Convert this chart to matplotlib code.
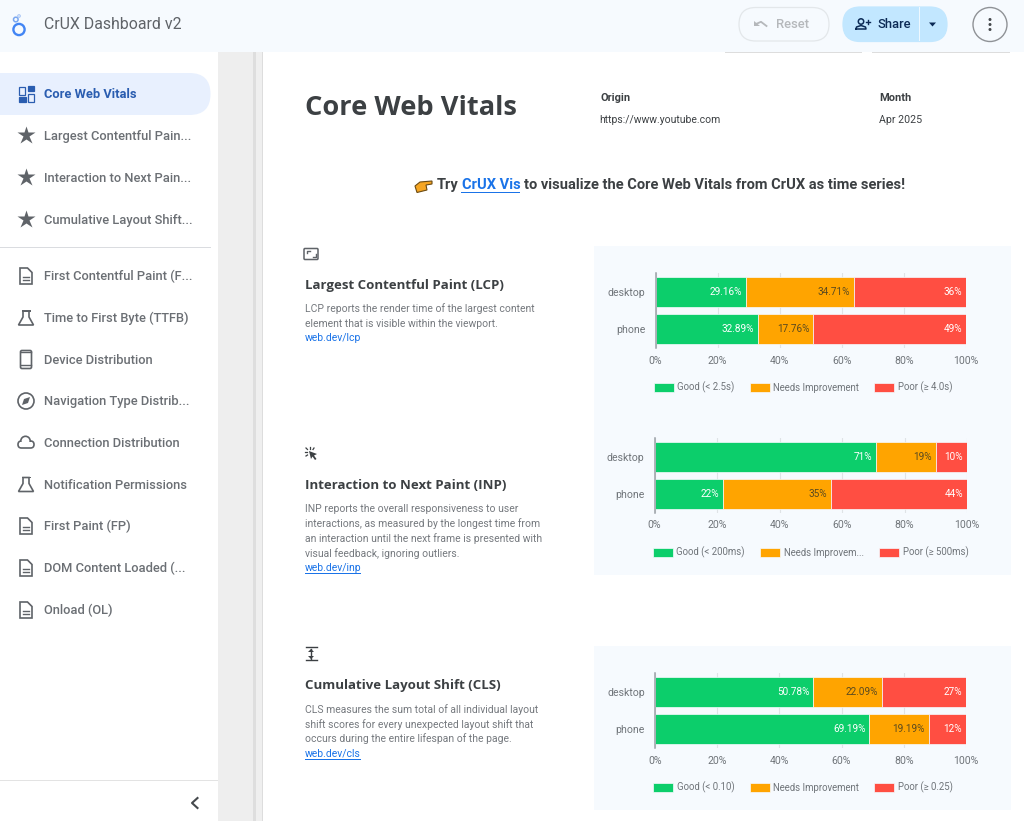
import matplotlib
matplotlib.use("Agg")
import matplotlib.pyplot as plt
from matplotlib.patches import Rectangle, FancyBboxPatch, Circle, Polygon
from matplotlib.ticker import FuncFormatter

W, H = 1024, 821
categories = ["desktop", "phone"]
lcp_good = [29.16, 32.89]
lcp_ni = [34.71, 17.76]
lcp_poor = [36, 49]
inp_good = [71, 22]
inp_ni = [19, 35]
inp_poor = [10, 44]
cls_good = [50.78, 69.19]
cls_ni = [22.09, 19.19]
cls_poor = [27, 12]
lcp_legend = ["Good (< 2.5s)", "Needs Improvement", "Poor (≥ 4.0s)"]
inp_legend = ["Good (< 200ms)", "Needs Improvem...", "Poor (≥ 500ms)"]
cls_legend = ["Good (< 0.10)", "Needs Improvement", "Poor (≥ 0.25)"]
x_ticks = [0, 20, 40, 60, 80, 100]
nav_top = ["Core Web Vitals", "Largest Contentful Pain...", "Interaction to Next Pain...", "Cumulative Layout Shift..."]
nav_bottom = ["First Contentful Paint (F...", "Time to First Byte (TTFB)", "Device Distribution",
              "Navigation Type Distrib...", "Connection Distribution", "Notification Permissions",
              "First Paint (FP)", "DOM Content Loaded (...", "Onload (OL)"]

GREEN, ORANGE, RED = "#0cce6b", "#ffa400", "#ff4e42"
UI = ["Roboto", "DejaVu Sans"]
HEAD = ["Open Sans", "DejaVu Sans"]
plt.rcParams["font.family"] = UI


def px(v):
    return v * 72 / 100


fig = plt.figure(figsize=(W / 100, H / 100), dpi=100, facecolor="white")
bg = fig.add_axes([0, 0, 1, 1])
bg.set_xlim(0, W)
bg.set_ylim(H, 0)
bg.axis("off")


def rect(x, y, w, h, c, z=1):
    bg.add_patch(Rectangle((x, y), w, h, fc=c, ec="none", zorder=z))


def txt(x, y, s, size, color="#5f6368", weight="normal", ha="left", family=None, **kw):
    return bg.text(x, y + 0.8, s, fontsize=px(size), color=color, fontweight=weight, ha=ha, va="center",
                   family=family or UI, zorder=5, **kw)


def pill(x, y, w, h, fc, ec):
    bg.add_patch(FancyBboxPatch((x, y), w, h, boxstyle=f"round,pad=0,rounding_size={h / 2}",
                                fc=fc, ec=ec, lw=0.9, zorder=4))


# page structure
rect(218, 52, 35, H, "#eeeeee")
rect(253, 52, 3, H, "#dedede")
rect(256, 52, 6, H, "#efefef")
rect(262, 52, 1, H, "#dddddd")
rect(0, 0, W, 52, "#f6fafe", 3)
rect(0, 247, 211, 1, "#dadce0")
rect(0, 780, 218, 1, "#e3e3e3")
for a, b in [(725, 862), (872, 1010)]:
    rect(a, 52, b - a, 1, "#dddddd")

# header
bg.add_patch(Circle((19, 29.5), 5.6, fc="none", ec="#4285f4", lw=1.7, zorder=5))
bg.add_patch(Circle((15.8, 19.5), 2.3, fc="none", ec="#7aa7f0", lw=1.1, zorder=5))
bg.add_patch(Circle((19, 16), 1.3, fc="none", ec="#a9c6f5", lw=0.8, zorder=5))
txt(43.5, 24, "CrUX Dashboard v2", 15.9, "#5f6368")

pill(739, 7.5, 90, 33.5, "none", "#e3e7ea")
bg.plot([756, 761, 766.5], [24, 21.8, 26], color="#b5b8bb", lw=1.3, zorder=5)
bg.add_patch(Polygon([[754, 21], [754, 26.5], [760, 26.5]], fc="#b5b8bb", ec="none", zorder=5))
txt(776, 24, "Reset", 13, "#b5b8bb", "medium")

pill(843, 7, 104, 34.5, "#c2e7ff", "#c2e7ff")
rect(919, 7, 1, 34.5, "#eef8ff", 5)
N = "#0b2a55"
bg.add_patch(Circle((861, 21.5), 2.7, fc="none", ec=N, lw=1.1, zorder=5))
bg.plot([856, 856.5, 861, 865.5, 866, 856], [29, 27, 25.5, 27, 29, 29], color=N, lw=1.1, zorder=5)
bg.plot([866, 870], [22, 22], color=N, lw=1, zorder=5)
bg.plot([868, 868], [20, 24], color=N, lw=1, zorder=5)
txt(877, 24, "Share", 13, N, "medium")
bg.add_patch(Polygon([[929, 22.5], [936, 22.5], [932.5, 26.5]], fc=N, ec="none", zorder=5))
bg.add_patch(Circle((990, 24.5), 17, fc="none", ec="#8f9296", lw=1, zorder=5))
for y in (19.5, 24.5, 29.5):
    bg.add_patch(Circle((990, y), 1.5, fc="#45494d", ec="none", zorder=6))

# sidebar
bg.add_patch(FancyBboxPatch((-30, 73), 240.5, 42, boxstyle="round,pad=0,rounding_size=21", fc="#e8f0fe", ec="none", zorder=2))
C = "#2a5db0"
for x, y, w, h, fill in [(19, 87, 6, 8, 0), (27.5, 86.5, 6.5, 5, 1), (18.5, 97, 7, 5, 1), (28, 94.5, 6, 7.5, 0)]:
    bg.add_patch(Rectangle((x, y), w, h, fc=C if fill else "none", ec=C, lw=0.9, zorder=5))
top_y = [94, 136, 178, 219.5]
for i, (name, y) in enumerate(zip(nav_top, top_y)):
    txt(43.5, y, name, 12.9, "#2a5db0" if i == 0 else "#6b6f74", "bold" if i == 0 else "medium")
    if i:
        bg.plot([26], [y - 0.5], marker="*", ms=13.5, color="#5f6368", mec="none", zorder=5)
bot_y = [276, 318, 359.5, 401, 443, 484.5, 526, 568, 610]
icons = ["doc", "flask", "phone", "compass", "cloud", "flask", "doc", "doc", "doc"]
G = "#5f6368"
for name, y, ic in zip(nav_bottom, bot_y, icons):
    txt(43.5, y, name, 12.9, "#6b6f74", "medium")
    if ic == "doc":
        bg.add_patch(Polygon([[20, y - 8], [27.5, y - 8], [32, y - 3.5], [32, y + 8], [20, y + 8]], fc="none", ec=G, lw=1.2, zorder=5))
        bg.plot([23, 29], [y + 1, y + 1], color=G, lw=1, zorder=5)
        bg.plot([23, 29], [y + 4, y + 4], color=G, lw=1, zorder=5)
    elif ic == "flask":
        rect(21.5, y - 7.8, 9, 1.4, G, 5)
        bg.add_patch(Polygon([[23, y - 7], [29, y - 7], [29, y - 1], [33.5, y + 7], [18.5, y + 7], [23, y - 1]], fc="none", ec=G, lw=1.2, zorder=5))
    elif ic == "phone":
        bg.add_patch(FancyBboxPatch((20.5, y - 9), 11, 18, boxstyle="round,pad=0,rounding_size=1.5", fc="none", ec=G, lw=1.2, zorder=5))
        bg.plot([21, 31], [y - 7, y - 7], color=G, lw=1, zorder=5)
        bg.plot([21, 31], [y + 6, y + 6], color=G, lw=1, zorder=5)
    elif ic == "compass":
        bg.add_patch(Circle((26, y), 8, fc="none", ec=G, lw=1.2, zorder=5))
        bg.add_patch(Polygon([[30, y - 4], [28, y + 2], [22, y + 4], [24, y - 2]], fc=G, ec="none", zorder=5))
    elif ic == "cloud":
        bg.add_patch(FancyBboxPatch((18, y - 2), 16, 7, boxstyle="round,pad=0,rounding_size=3.5", fc="none", ec=G, lw=1.2, zorder=5))
        bg.add_patch(Circle((25.5, y - 2), 4.7, fc="white", ec=G, lw=1.2, zorder=5))
        rect(20, y - 1, 12, 5.4, "white", 6)
bg.plot([197.5, 192, 197.5], [798, 803, 808], color="#45494d", lw=1.5, zorder=5)

# report header
txt(305, 107.5, "Core Web Vitals", 27.3, "#3c4043", "bold", family=HEAD)
txt(600.5, 97, "Origin", 11, "#3c4043", "bold")
txt(599, 119, "https://www.youtube.com", 10.4, "#3c4043")
txt(879, 97, "Month", 11, "#3c4043", "bold")
txt(879, 119, "Apr 2025", 10.6, "#3c4043")

bg.add_patch(Polygon([[415, 186], [420, 182], [432, 181], [432, 184], [426, 185], [427, 190], [417, 192.5]],
                     fc="#f6a623", ec="#6b4a12", lw=0.8, zorder=5))
txt(437, 184, "Try", 14.6, "#3c4043", "bold")
txt(461.5, 184, "CrUX Vis", 14.6, "#1a73e8", "bold")
rect(461, 192, 59, 1, "#1a73e8", 5)
txt(524, 184, "to visualize the Core Web Vitals from CrUX as time series!", 14.6, "#3c4043", "bold")

LINK = "#1a73e8"
D = "#75797e"
sections = [
    (284.5, "Largest Contentful Paint (LCP)", 308,
     ["LCP reports the render time of the largest content", "element that is visible within the viewport."], "web.dev/lcp"),
    (484.5, "Interaction to Next Paint (INP)", 508,
     ["INP reports the overall responsiveness to user", "interactions, as measured by the longest time from",
      "an interaction until the next frame is presented with", "visual feedback, ignoring outliers."], "web.dev/inp"),
    (684.5, "Cumulative Layout Shift (CLS)", 708.5,
     ["CLS measures the sum total of all individual layout", "shift scores for every unexpected layout shift that",
      "occurs during the entire lifespan of the page."], "web.dev/cls"),
]
for ty, title, y0, lines, link in sections:
    txt(305, ty, title, 13.2, "#3c4043", "bold", family=HEAD)
    for k, ln in enumerate(lines):
        txt(305, y0 + k * 14.8, ln, 10.35, D)
    ly = y0 + len(lines) * 14.8
    txt(305, ly, link, 10.35, LINK)
    rect(305, ly + 6, 56, 0.8, LINK, 5)

# section icons
bg.add_patch(FancyBboxPatch((304, 248.5), 14, 11, boxstyle="round,pad=0,rounding_size=1", fc="none", ec="#5f6368", lw=1.1, zorder=5))
bg.plot([306.5, 306.5, 309.5], [253.5, 251, 251], color="#5f6368", lw=1, zorder=5)
bg.plot([312.5, 315.5, 315.5], [257, 257, 254.5], color="#5f6368", lw=1, zorder=5)
bg.add_patch(Polygon([[309, 451], [317, 454], [314, 455.5], [316.5, 459], [315, 460], [312.5, 456.5], [311, 459]], fc="#3c4043", ec="none", zorder=5))
for x0, y0, x1, y1 in [(305, 452, 307, 452), (306, 448, 307.5, 449.5), (310, 447, 310, 449), (314, 448, 313, 449.5), (306, 456, 307.5, 455)]:
    bg.plot([x0, x1], [y0, y1], color="#3c4043", lw=0.9, zorder=5)
for x0, x1, y0, y1 in [(305.5, 316.5, 647.5, 647.5), (305.5, 316.5, 660.5, 660.5), (311, 311, 649, 659)]:
    bg.plot([x0, x1], [y0, y1], color="#3c4043", lw=1, zorder=5)
bg.add_patch(Polygon([[308, 652], [314, 652], [311, 649]], fc="#3c4043", zorder=5))
bg.add_patch(Polygon([[308, 656], [314, 656], [311, 659]], fc="#3c4043", zorder=5))

# chart panels and charts
PANEL = "#f6fafe"
rect(594, 246, 417, 329, PANEL)
rect(594, 646, 417, 164, PANEL)

charts = [
    (655.5, 966, 273, 348, lcp_good, lcp_ni, lcp_poor, lcp_legend),
    (654.5, 967, 438, 513, inp_good, inp_ni, inp_poor, inp_legend),
    (655, 966, 673, 748, cls_good, cls_ni, cls_poor, cls_legend),
]
colors = [GREEN, ORANGE, RED]
label_colors = ["white", "#5a4a20", "white"]
for x0, x1, y0, y1, good, ni, poor, leg in charts:
    ax = fig.add_axes([x0 / W, 1 - y1 / H, (x1 - x0) / W, (y1 - y0) / H], facecolor="none")
    ax.set_xlim(0, 100)
    ax.set_ylim(1.5, -0.5)
    ax.set_axisbelow(True)
    ax.grid(axis="x", color="#dfe3e6", lw=0.8)
    lefts = [0.0, 0.0]
    handles = []
    for series, col, lc in zip((good, ni, poor), colors, label_colors):
        scaled = [v / (a + b + c) * 100 for v, a, b, c in zip(series, good, ni, poor)]
        bars = ax.barh(range(2), scaled, left=lefts, height=0.8, color=col, edgecolor="#f6fafe", linewidth=0.5)
        handles.append(bars[0])
        for i, (s, v) in enumerate(zip(scaled, series)):
            ax.annotate(f"{v:g}%", (lefts[i] + s, i), xytext=(-4 * 0.72, 0), textcoords="offset points",
                        ha="right", va="center", fontsize=px(10), color=lc)
            lefts[i] += s
    for s in ("top", "right", "bottom"):
        ax.spines[s].set_visible(False)
    ax.spines["left"].set_color("#9aa0a6")
    ax.spines["left"].set_linewidth(1.1)
    ax.set_yticks(range(2), categories)
    ax.set_xticks(x_ticks)
    ax.xaxis.set_major_formatter(FuncFormatter(lambda v, _p: f"{v:.0f}%"))
    ax.tick_params(axis="both", length=0, labelsize=px(10.5), labelcolor="#70757a")
    ax.tick_params(axis="x", pad=px(7.5))
    ax.tick_params(axis="y", pad=px(10))
    ax.legend(handles, leg, loc="upper left", bbox_to_anchor=(-0.006, -0.45), ncols=3, frameon=False, borderpad=0,
              borderaxespad=0, fontsize=px(9.6), labelcolor="#70757a", handlelength=2.08, handleheight=1.1,
              handletextpad=0.4, columnspacing=1.56)

fig.savefig("out.png", dpi=100, facecolor="white")
